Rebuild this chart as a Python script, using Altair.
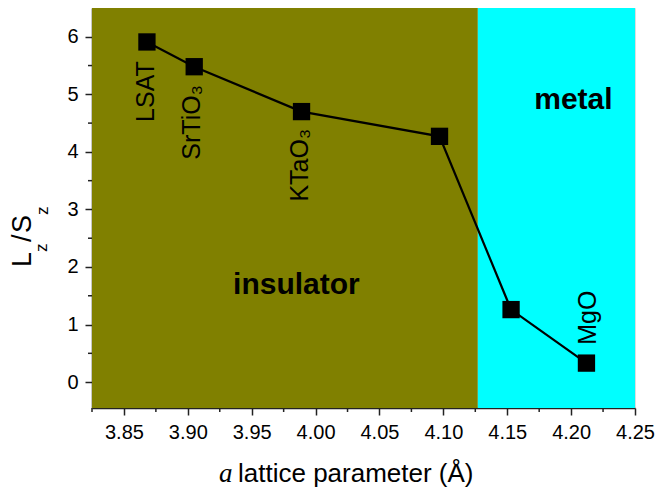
import altair as alt
import pandas as pd

# ---- data ----
lattice = [3.868, 3.905, 3.989, 4.097, 4.153, 4.212]
lz_sz = [5.91, 5.48, 4.70, 4.27, 1.26, 0.33]

sub_names = ["LSAT", "SrTiO₃", "KTaO₃", "MgO"]
sub_x = [3.867, 3.903, 3.988, 4.2135]
sub_y = [5.575, 5.16, 4.40, 1.59]

region_names = ["insulator", "metal"]
region_start = [3.825, 4.127]
region_end = [4.127, 4.25]
region_colors = ["#808000", "#00FFFF"]
region_label_x = [3.985, 4.2018]
region_label_y = [1.53, 4.75]

x_major = [3.85, 3.90, 3.95, 4.00, 4.05, 4.10, 4.15, 4.20, 4.25]
x_minor = [3.825, 3.875, 3.925, 3.975, 4.025, 4.075, 4.125, 4.175, 4.225]
y_major = [0, 1, 2, 3, 4, 5, 6]
y_minor = [0.5, 1.5, 2.5, 3.5, 4.5, 5.5]

X_DOM = [3.825, 4.25]
Y_DOM = [-0.45, 6.5]
FONT = "Liberation Sans"
W, H = 543, 400
PAD_L = 84

pts = pd.DataFrame({"x": lattice, "y": lz_sz})
subs = pd.DataFrame({"name": sub_names, "x": sub_x, "y": sub_y})
regions = pd.DataFrame({
    "name": region_names, "x0": region_start, "x1": region_end,
    "y0": [Y_DOM[0]] * 2, "y1": [Y_DOM[1]] * 2, "color": region_colors,
    "lx": region_label_x, "ly": region_label_y,
})

xscale = alt.Scale(domain=X_DOM, nice=False, zero=False)
yscale = alt.Scale(domain=Y_DOM, nice=False, zero=False)

x_axis = alt.Axis(
    values=x_major, title=None, grid=False, format=".2f", tickSize=7,
    labelOverlap=False, labelFlush=False, labelPadding=7,
    labelFont=FONT, labelFontSize=20, labelColor="black",
    tickColor="#222", tickWidth=1.5, domainColor="#222", domainWidth=1.5,
)
y_axis = alt.Axis(
    values=y_major, title=None, grid=False, format="d", tickSize=7,
    labelOverlap=False, labelFlush=False, labelPadding=7,
    labelFont=FONT, labelFontSize=20, labelColor="black",
    tickColor="#222", tickWidth=1.5, domainColor="#222", domainWidth=1.5,
)

bg = alt.Chart(regions).mark_rect().encode(
    x=alt.X("x0:Q", scale=xscale, axis=x_axis),
    x2="x1:Q",
    y=alt.Y("y0:Q", scale=yscale, axis=y_axis),
    y2="y1:Q",
    color=alt.Color("color:N", scale=None),
)

# minor ticks (outward, shorter than the major ones)
xminor = alt.Chart(pd.DataFrame({"v": x_minor})).mark_rule(color="#222", strokeWidth=1.5).encode(
    x=alt.X("v:Q", scale=xscale), y=alt.value(H), y2=alt.value(H + 4)
)
yminor = alt.Chart(pd.DataFrame({"v": y_minor})).mark_rule(color="#222", strokeWidth=1.5).encode(
    y=alt.Y("v:Q", scale=yscale), x=alt.value(0), x2=alt.value(-4)
)

line = alt.Chart(pts).mark_line(color="black", strokeWidth=2.2).encode(
    x=alt.X("x:Q", scale=xscale), y=alt.Y("y:Q", scale=yscale)
)
squares = alt.Chart(pts).mark_square(size=300, color="black", opacity=1, filled=True).encode(
    x=alt.X("x:Q", scale=xscale), y=alt.Y("y:Q", scale=yscale)
)

sub_text = alt.Chart(subs).mark_text(
    angle=270, align="right", baseline="middle", font=FONT, fontSize=25, color="black"
).encode(x=alt.X("x:Q", scale=xscale), y=alt.Y("y:Q", scale=yscale), text="name:N")

region_text = alt.Chart(regions).mark_text(
    align="center", baseline="alphabetic", font=FONT, fontSize=30, fontWeight="bold", color="black"
).encode(x=alt.X("lx:Q", scale=xscale), y=alt.Y("ly:Q", scale=yscale), text="name:N")

# y-axis title L_z/S_z composed from pieces (subscripts)
ytitle_df = pd.DataFrame({
    "t": ["L", "z", "/", "S", "z"],
    "px": [-61.5, -45, -61.5, -61.5, -44],
    "py": [259, 244, 234, 225, 207],
    "fs": [27, 17, 27, 27, 17],
})
ytitle = alt.Chart(ytitle_df).mark_text(
    angle=270, align="left", baseline="alphabetic", font=FONT, color="black"
).encode(
    x=alt.X("px:Q", scale=None), y=alt.Y("py:Q", scale=None), text="t:N",
    size=alt.Size("fs:Q", scale=None, legend=None),
)

# x-axis title with italic "a"
xt_a = alt.Chart(pd.DataFrame({"t": ["a"], "px": [127], "py": [474]})).mark_text(
    align="left", baseline="alphabetic", font="Liberation Serif", fontStyle="italic",
    fontSize=27, color="black"
).encode(x=alt.X("px:Q", scale=None), y=alt.Y("py:Q", scale=None), text="t:N")
xt_b = alt.Chart(pd.DataFrame({"t": ["lattice parameter (Å)"], "px": [146], "py": [474]})).mark_text(
    align="left", baseline="alphabetic", font=FONT, fontSize=26, color="black"
).encode(x=alt.X("px:Q", scale=None), y=alt.Y("py:Q", scale=None), text="t:N")

chart = alt.layer(
    bg, xminor, yminor, line, squares, sub_text, region_text, ytitle, xt_a, xt_b
).properties(
    width=W, height=H,
    autosize=alt.AutoSizeParams(type="none"),
    padding={"left": PAD_L, "top": 0, "right": 20, "bottom": 85},
).configure_view(stroke="#222", strokeWidth=1.5).configure(background="white")

chart.save("out.html", embed_options={"renderer": "svg", "actions": False})
